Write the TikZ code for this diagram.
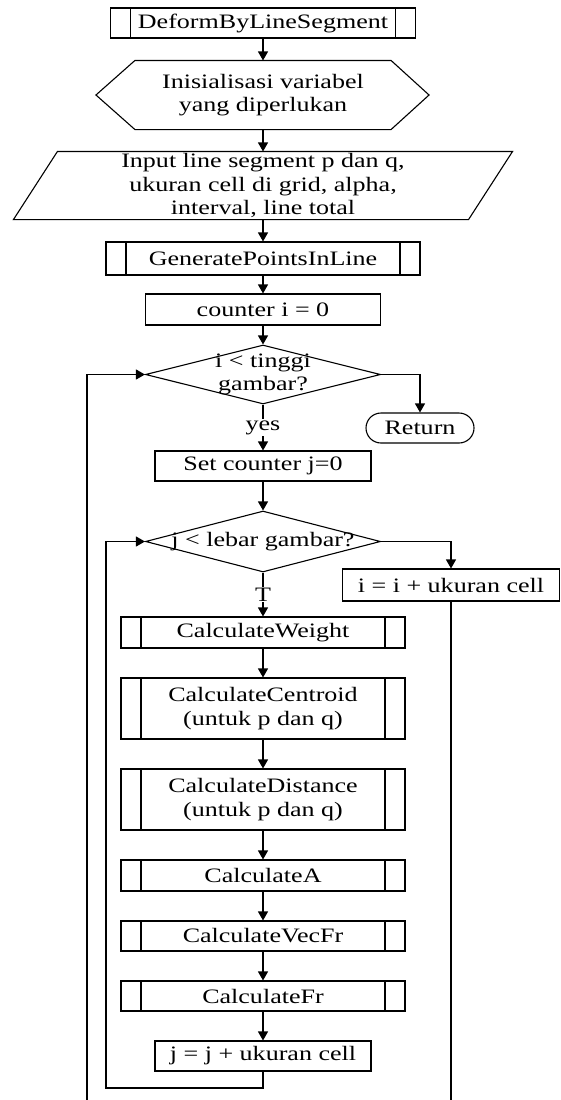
\documentclass[tikz,border=0pt]{standalone}
\usepackage{fontspec}
\setmainfont{Liberation Serif}[FakeStretch=1.27]
\usetikzlibrary{shapes.geometric,arrows.meta}

\begin{document}
\begin{tikzpicture}[x=1pt,y=1pt,line width=1.1pt,font=\fontsize{20.5}{23.5}\selectfont,>={Triangle[length=9pt,width=10pt]}]
    \tikzstyle{proc}=[rectangle,draw,inner sep=0pt,minimum height=30pt]
    \tikzstyle{subproc}=[proc,path picture={\draw ([xshift=20pt]path picture bounding box.north west) -- ([xshift=20pt]path picture bounding box.south west) ([xshift=-20pt]path picture bounding box.north east) -- ([xshift=-20pt]path picture bounding box.south east);}]
    \tikzstyle{decide}=[diamond,draw,inner sep=0pt,minimum width=235pt]
    \tikzstyle{ends}=[rectangle,draw,rounded corners=15pt,minimum width=108pt,minimum height=30pt]
    \path[use as bounding box,clip] (0,0) rectangle (561,-1100);
    \node (deform)[subproc,minimum width=305pt] at (263,-23) {DeformByLineSegment};
    \node (init)[inner sep=0pt,minimum width=255pt,minimum height=68pt,align=center] at (263,-95) {Inisialisasi variabel\\yang diperlukan};
    \node (input)[inner sep=0pt,minimum width=410pt,minimum height=67pt,align=center] at (263,-185.5) {Input line segment p dan q,\\ukuran cell di grid, alpha,\\interval, line total};
    \node (genpts)[subproc,minimum width=314pt,minimum height=33pt] at (263,-258.5) {GeneratePointsInLine};
    \node (cnti)[proc,minimum width=235pt,minimum height=31pt] at (263,-309.5) {counter i = 0};
    \node (condi)[decide,minimum height=59pt,label={[align=center]center:i < tinggi\\gambar?}] at (263,-374.5) {};
    \node (ret)[ends] at (420,-428) {Return};
    \node (setj)[proc,minimum width=216pt] at (263,-466) {Set counter j=0};
    \node (condj)[decide,minimum height=61pt,label=center:j < lebar gambar?] at (263,-541.5) {};
    \node (inci)[proc,minimum width=217pt,minimum height=32pt] at (451,-585) {i = i + ukuran cell};
    \node (weight)[subproc,minimum width=284pt,minimum height=31pt] at (263,-632.5) {CalculateWeight};
    \node (centroid)[subproc,minimum width=284pt,minimum height=61pt,align=center] at (263,-708.5) {CalculateCentroid\\(untuk p dan q)};
    \node (dist)[subproc,minimum width=284pt,minimum height=61pt,align=center] at (263,-799.5) {CalculateDistance\\(untuk p dan q)};
    \node (calca)[subproc,minimum width=284pt,minimum height=31pt] at (263,-875.5) {CalculateA};
    \node (vecfr)[subproc,minimum width=284pt] at (263,-936) {CalculateVecFr};
    \node (fr)[subproc,minimum width=284pt] at (263,-996) {CalculateFr};
    \node (incj)[proc,minimum width=216pt] at (263,-1056) {j = j + ukuran cell};
    \coordinate (jloop) at (106,-1088);
    \coordinate (iloop) at (87,-1120);
    % hexagon and parallelogram outlines
    \draw (init.north west) -- (init.north east) -- ([xshift=38pt]init.east) -- (init.south east) -- (init.south west) -- ([xshift=-39pt]init.west) -- cycle;
    \draw (input.north west) -- ([xshift=44pt]input.north east) -- (input.south east) -- ([xshift=-44pt]input.south west) -- cycle;
    \draw[->] (deform) -- (init);
    \draw[->] (init) -- (input);
    \draw[->] (input) -- (genpts);
    \draw[->] (genpts) -- (cnti);
    \draw[->] (cnti) -- (condi);
    \draw[->] (condi.east) -| (ret.north);
    \draw[->] (condi.south) -- node[fill=white,inner sep=1pt] {yes} (setj.north);
    \draw[->] (setj) -- (condj);
    \draw[->] (condj.east) -| (inci.north);
    \draw[->] (condj.south) -- node[fill=white,inner sep=1pt] {T} (weight.north);
    \draw[->] (weight) -- (centroid);
    \draw[->] (centroid) -- (dist);
    \draw[->] (dist) -- (calca);
    \draw[->] (calca) -- (vecfr);
    \draw[->] (vecfr) -- (fr);
    \draw[->] (fr) -- (incj);
    % loops
    \draw[->] (incj.south) |- (jloop) |- (condj.west);
    \draw[->] (inci.south) |- (iloop) |- (condi.west);
\end{tikzpicture}
\end{document}
